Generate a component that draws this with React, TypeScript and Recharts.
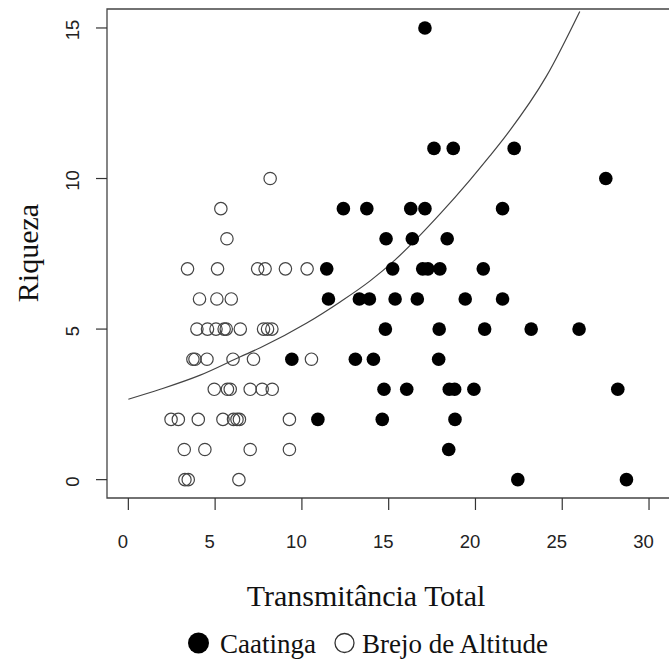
import { ScatterChart, Scatter, XAxis, YAxis, ReferenceArea, Legend } from 'recharts';

// Caatinga (pontos cheios)
const caatingaX = [
  17.09,
  17.61, 18.72, 22.23,
  27.51,
  12.39, 13.74, 16.27, 17.09, 21.56,
  14.85, 16.36, 18.37,
  11.43, 15.23, 16.96, 17.26, 17.95, 20.45,
  11.53, 13.31, 13.89, 15.37, 16.65, 19.41, 21.56,
  14.81, 17.91, 20.53, 23.21, 25.97,
  9.42, 13.08, 14.12, 17.88,
  14.73, 16.04, 18.49, 18.8, 19.91, 28.2,
  10.92, 14.63, 18.82,
  18.46,
  22.44, 28.7,
];
const caatingaY = [
  15,
  11, 11, 11,
  10,
  9, 9, 9, 9, 9,
  8, 8, 8,
  7, 7, 7, 7, 7, 7,
  6, 6, 6, 6, 6, 6, 6,
  5, 5, 5, 5, 5,
  4, 4, 4, 4,
  3, 3, 3, 3, 3, 3,
  2, 2, 2,
  1,
  0, 0,
];

// Brejo de Altitude (pontos vazios)
const brejoX = [
  8.17,
  5.33,
  5.68,
  3.41, 5.14, 7.45, 7.88, 9.05, 10.3,
  4.1, 5.1, 5.93,
  3.95, 4.56, 5.05, 5.52, 5.64, 6.45, 7.79, 8.02, 8.27,
  3.72, 3.84, 4.53, 6.03, 7.21, 10.55,
  4.95, 5.71, 5.87, 7.02, 7.71, 8.29,
  2.46, 2.88, 4.03, 5.45, 6.06, 6.26, 6.4, 9.28,
  3.22, 4.41, 7.02, 9.28,
  3.26, 3.45, 6.37,
];
const brejoY = [
  10,
  9,
  8,
  7, 7, 7, 7, 7, 7,
  6, 6, 6,
  5, 5, 5, 5, 5, 5, 5, 5, 5,
  4, 4, 4, 4, 4, 4,
  3, 3, 3, 3, 3, 3,
  2, 2, 2, 2, 2, 2, 2, 2,
  1, 1, 1, 1,
  0, 0, 0,
];

// curva ajustada
const curveX = [0, 1.84, 4.14, 6.45, 7.6, 10.28, 12.2, 13.93, 15.37, 18.0, 19.68, 20.83, 21.79, 24.09, 26.01];
const curveY = [2.67, 3.0, 3.47, 4.08, 4.38, 5.2, 5.9, 6.6, 7.3, 8.85, 9.95, 10.75, 11.45, 13.4, 15.55];

const xTicks = [0, 5, 10, 15, 20, 25, 30];
const yTicks = [0, 5, 10, 15];
const xDomain = [-1.23, 31.9];
const yDomain = [-0.61, 15.63];

const toPoints = (xs: number[], ys: number[]) => xs.map((x, i) => ({ x, y: ys[i] }));

const SANS = "'Liberation Sans', Arial, sans-serif";
const SERIF = "'Liberation Serif', 'Times New Roman', serif";

const FilledDot = (props: any) => <circle cx={props.cx} cy={props.cy} r={6.8} fill="#000" />;
const OpenDot = (props: any) => (
  <circle cx={props.cx} cy={props.cy} r={6.2} fill="none" stroke="#444" strokeWidth={1.2} />
);
const NoDot = () => <g />;

const XTick = ({ x, y, payload }: any) => (
  <text x={x - 5.5} y={y + 36} textAnchor="middle" style={{ fontFamily: SANS }} fontSize={18.5} fill="#222">
    {payload.value}
  </text>
);

const YTick = ({ x, y, payload }: any) => {
  const tx = x - 14.5;
  const ty = y + 2;
  return (
    <text x={tx} y={ty} transform={`rotate(-90 ${tx} ${ty})`} textAnchor="middle" style={{ fontFamily: SANS }} fontSize={18.5} fill="#222">
      {payload.value}
    </text>
  );
};

const LegendBox = () => (
  <svg width={686} height={40}>
    <circle cx={198.5} cy={21} r={10.5} fill="#000" />
    <text x={220} y={31} style={{ fontFamily: SERIF }} fontSize={27} fill="#111">Caatinga</text>
    <circle cx={344.5} cy={21} r={9.5} fill="none" stroke="#333" strokeWidth={1.3} />
    <text x={362} y={31} style={{ fontFamily: SERIF }} fontSize={27} fill="#111">Brejo de Altitude</text>
  </svg>
);

export default function App() {
  return (
    <div style={{ position: 'absolute', left: 0, top: 0, width: 669, height: 659, overflow: 'hidden', background: '#fff' }}>
      <ScatterChart width={686} height={659} margin={{ top: 9, right: 4, bottom: 0, left: 0 }}>
        <XAxis
          type="number"
          dataKey="x"
          domain={xDomain}
          ticks={xTicks}
          allowDataOverflow
          axisLine={false}
          tickSize={12}
          tickLine={{ stroke: '#333', strokeWidth: 1.2 }}
          tick={<XTick />}
          height={161}
          label={{
            content: () => (
              <text x={366} y={606} textAnchor="middle" style={{ fontFamily: SERIF }} fontSize={30} fill="#111">
                Transmitância Total
              </text>
            ),
          }}
        />
        <YAxis
          type="number"
          dataKey="y"
          domain={yDomain}
          ticks={yTicks}
          allowDataOverflow
          axisLine={false}
          tickSize={11}
          tickLine={{ stroke: '#333', strokeWidth: 1.2 }}
          tick={<YTick />}
          width={107}
          label={{
            content: () => (
              <text x={38} y={253} transform="rotate(-90 38 253)" textAnchor="middle" style={{ fontFamily: SERIF }} fontSize={30} fill="#111">
                Riqueza
              </text>
            ),
          }}
        />
        <ReferenceArea
          x1={xDomain[0]}
          x2={xDomain[1]}
          y1={yDomain[0]}
          y2={yDomain[1]}
          fill="none"
          stroke="#444"
          strokeWidth={1.3}
          ifOverflow="visible"
        />
        <Scatter
          name="curva"
          data={toPoints(curveX, curveY)}
          line={{ stroke: '#444', strokeWidth: 1.2 }}
          lineJointType="monotoneX"
          shape={<NoDot />}
          legendType="none"
          isAnimationActive={false}
        />
        <Scatter name="Brejo de Altitude" data={toPoints(brejoX, brejoY)} shape={<OpenDot />} isAnimationActive={false} />
        <Scatter name="Caatinga" data={toPoints(caatingaX, caatingaY)} shape={<FilledDot />} isAnimationActive={false} />
        <Legend
          verticalAlign="middle"
          align="center"
          layout="horizontal"
          wrapperStyle={{ top: 622, left: 0, width: 686, height: 40 }}
          content={() => <LegendBox />}
        />
      </ScatterChart>
    </div>
  );
}
